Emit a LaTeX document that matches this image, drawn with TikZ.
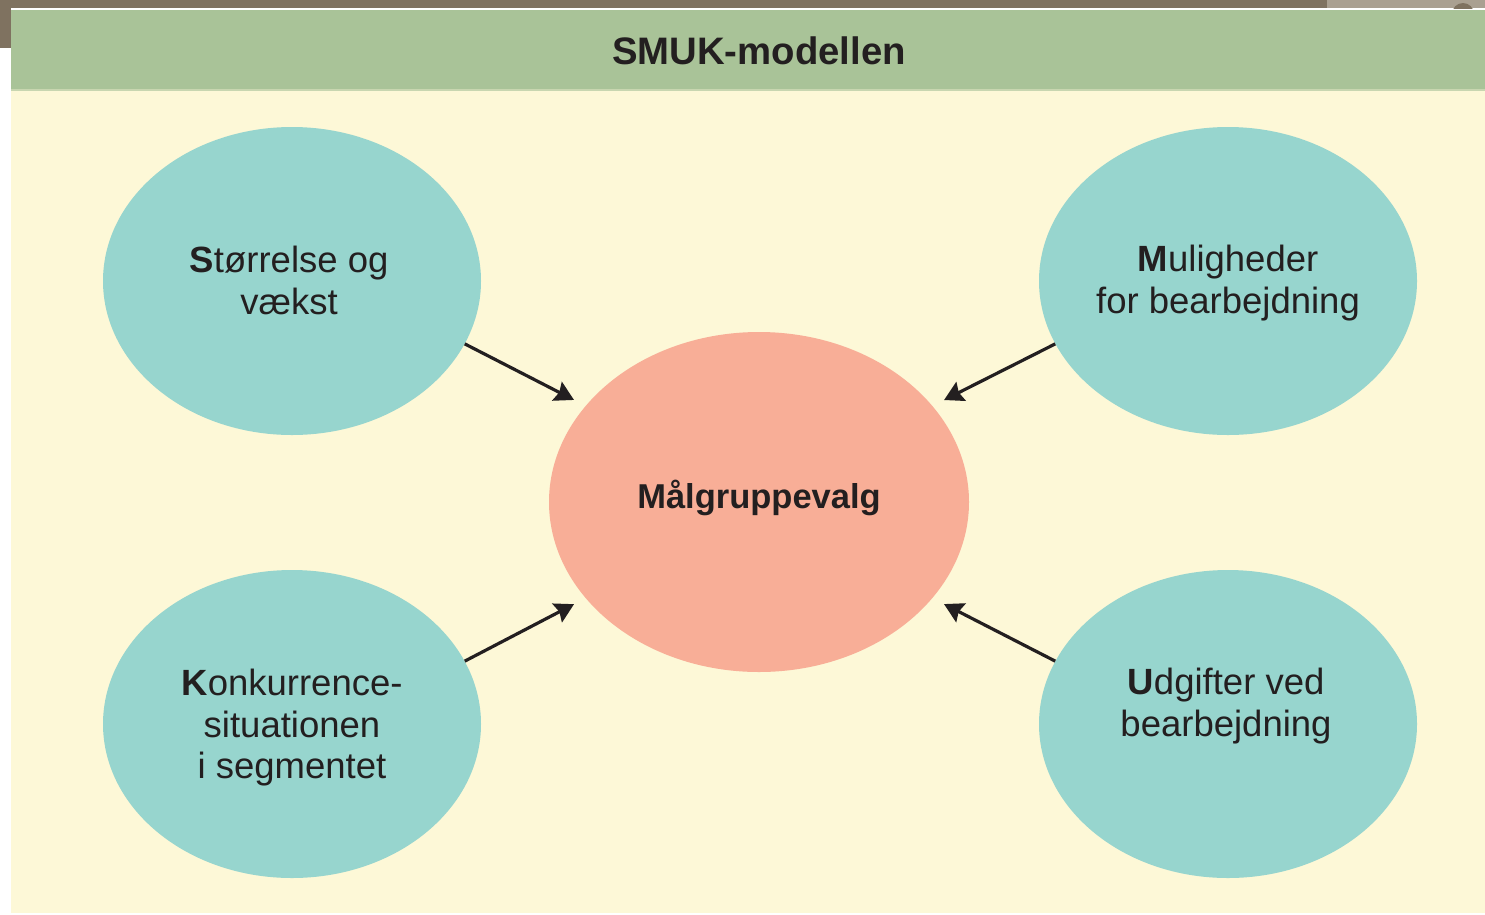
\documentclass[tikz,border=0pt]{standalone}
\usepackage{fontspec}
\setmainfont{Liberation Sans}
\usetikzlibrary{shapes.geometric,arrows.meta}
\definecolor{hdrgreen}{RGB}{169,195,152}
\definecolor{hdrline}{RGB}{200,214,176}
\definecolor{creamfill}{RGB}{253,248,215}
\definecolor{tealfill}{RGB}{151,213,206}
\definecolor{salmonfill}{RGB}{248,174,151}
\definecolor{inkdark}{RGB}{35,31,32}
\definecolor{framebrown}{RGB}{127,114,96}
\definecolor{framegray}{RGB}{170,160,145}
\tikzset{
  bubble/.style={ellipse, fill=tealfill, draw=none, inner sep=0pt, minimum width=378pt, minimum height=308pt},
  hub/.style={ellipse, fill=salmonfill, draw=none, inner sep=0pt, minimum width=420pt, minimum height=340pt},
  lbl/.style={align=center, inner sep=0pt, text=inkdark, font=\fontsize{36.5}{41.5}\selectfont},
  arr/.style={draw=inkdark, line width=3.2pt, -{Stealth[length=19pt,width=21pt,inset=2.5pt]}, shorten >=13pt}
}
\begin{document}
\begin{tikzpicture}[x=1pt,y=-1pt]
\useasboundingbox (0,0) rectangle (1485,914);
% outer frame bits
\fill[white] (0,0) rectangle (1485,914);
\fill[framebrown] (0,0) rectangle (1485,8);
\fill[framebrown] (0,0) rectangle (11,48);
\fill[framegray] (1327,0) rectangle (1485,8);
\begin{scope}
  \clip (1327,0) rectangle (1485,8);
  \fill[framebrown] (1463,14) circle[radius=11];
\end{scope}
% panel
\fill[creamfill] (11,89) rectangle (1485,913);
\fill[hdrgreen] (11,10) rectangle (1485,89);
\fill[hdrline] (11,89) rectangle (1485,91);
\node[anchor=base, inner sep=0pt, text=inkdark, font=\fontsize{38.3}{44}\selectfont\bfseries] (title) at (759,64) {SMUK-modellen};
% ellipses
\node[bubble] (tl) at (292,281) {};
\node[bubble] (tr) at (1228,281) {};
\node[bubble] (bl) at (292,724) {};
\node[bubble] (br) at (1228,724) {};
\node[hub] (c) at (759,502) {};
% labels
\node[lbl, anchor=north] (tltext) at (289,246) {\textbf{S}tørrelse og\\vækst};
\node[lbl, anchor=north] (trtext) at (1228,245) {\textbf{M}uligheder\\for bearbejdning};
\node[lbl, anchor=north] (bltext) at (292,669) {\textbf{K}onkurrence-\\situationen\\i segmentet};
\node[lbl, anchor=north] (brtext) at (1226,668) {\textbf{U}dgifter ved\\bearbejdning};
\node[anchor=base, inner sep=0pt, text=inkdark, font=\fontsize{34.5}{40}\selectfont\bfseries] (ctext) at (759,508) {Målgruppevalg};
% arrows
\draw[arr] (tl.-20) -- (c.151);
\draw[arr] (tr.200) -- (c.29);
\draw[arr] (bl.20) -- (c.209);
\draw[arr] (br.160) -- (c.-29);
\end{tikzpicture}
\end{document}
